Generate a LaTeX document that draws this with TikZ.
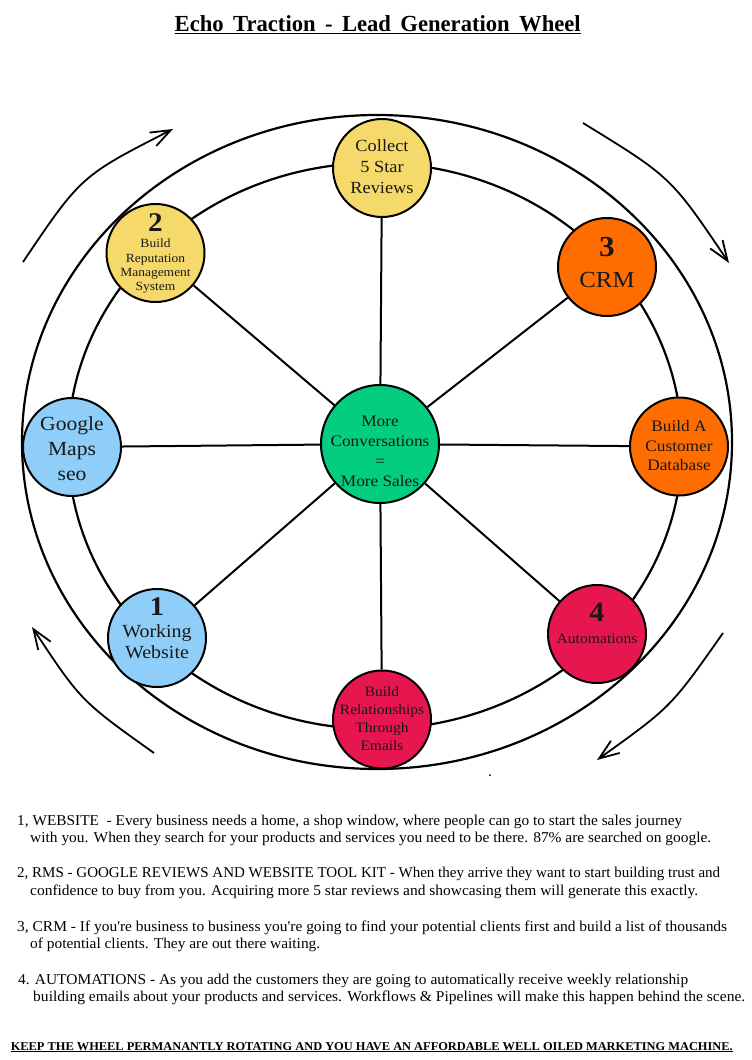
\documentclass[tikz,border=0pt]{standalone}
\usepackage{fontspec}
\setmainfont{Liberation Serif}[FakeStretch=1.08, Ligatures=TeXOff]
\usepackage{graphicx}
\usetikzlibrary{arrows.meta}
\definecolor{ylw}{HTML}{F6D96B}
\definecolor{org}{HTML}{FF6C00}
\definecolor{grn}{HTML}{03CD7F}
\definecolor{blu}{HTML}{8ECEF8}
\definecolor{crim}{HTML}{E8164E}
\newcommand{\fitline}[2]{\resizebox{#1pt}{\height}{#2}}
\tikzset{
  wheel/.style={line width=2.2pt},
  spoke/.style={line width=2pt},
  disc/.style={circle, draw, line width=2pt, minimum size=98pt, inner sep=0pt},
  hubdisc/.style={disc, minimum size=118pt},
  ntext/.style={align=center, inner sep=0pt, text=black!90},
  turn/.style={line width=1.8pt, -{Straight Barb[length=20pt,width=15pt]}},
  body/.style={anchor=base west, inner sep=0pt, font=\fontsize{15}{17}\selectfont},
}
\begin{document}
\begin{tikzpicture}[x=1pt,y=-1pt]
\fill[white] (0,0) rectangle (752,1060);
\useasboundingbox (0,0) rectangle (752,1060);

% title
\node[anchor=base, inner sep=0pt, font=\fontsize{23}{23}\selectfont\bfseries] (title) at (377.75,31)
  {\fitline{406}{\underline{Echo\hspace{0.45em}Traction\hspace{0.45em}-\hspace{0.45em}Lead\hspace{0.45em}Generation\hspace{0.45em}Wheel}}};

% rings
\coordinate (wc) at (377,442);
\coordinate (ic) at (375,446);
\draw[wheel] (wc) ellipse [x radius=355pt, y radius=327pt];
\draw[wheel] (ic) ellipse [x radius=307pt, y radius=283pt];

% rotation arrows
\coordinate (a1s) at (23,262);  \coordinate (a1c) at (81,176);  \coordinate (a1e) at (173,129);
\coordinate (a2s) at (583,123); \coordinate (a2c) at (671,177); \coordinate (a2e) at (729,263);
\coordinate (a3s) at (723,633); \coordinate (a3c) at (671,707); \coordinate (a3e) at (597,760);
\coordinate (a4s) at (154,753); \coordinate (a4c) at (81,701);  \coordinate (a4e) at (32,627);
\draw[turn] (a1s) .. controls (a1c) .. (a1e);
\draw[turn] (a2s) .. controls (a2c) .. (a2e);
\draw[turn] (a3s) .. controls (a3c) .. (a3e);
\draw[turn] (a4s) .. controls (a4c) .. (a4e);

% discs
\node[disc, fill=ylw] (collect) at (382,168) {};
\node[disc, fill=ylw] (rms) at (155.5,253) {};
\node[disc, fill=org] (crm) at (607,267) {};
\node[disc, fill=blu] (gmaps) at (72,447) {};
\node[hubdisc, fill=grn] (hub) at (380,444) {};
\node[disc, fill=org] (cdb) at (679,446.5) {};
\node[disc, fill=blu] (web) at (157,638) {};
\node[disc, fill=crim] (auto) at (597,634) {};
\node[disc, fill=crim] (rel) at (382,719.5) {};

% spokes
\foreach \n in {collect,rms,crm,gmaps,cdb,web,auto,rel}
  \draw[spoke] (hub) -- (\n);

% disc texts
\node[ntext, font=\fontsize{17}{21}\selectfont] (collect-t) at (382,167) {Collect\\5 Star\\Reviews};
\node[ntext, font=\fontsize{12.5}{14.4}\selectfont] (rms-t) at (155.5,253.7)
  {{\fontsize{27}{27}\selectfont\bfseries 2}\\[1.5pt]Build\\Reputation\\Management\\System};
\node[ntext, font=\fontsize{23}{27}\selectfont] (crm-t) at (607,262.5)
  {{\fontsize{29}{29}\selectfont\bfseries 3}\\[4pt]CRM};
\node[ntext, font=\fontsize{20}{25}\selectfont] (gmaps-t) at (72,449) {Google\\Maps\\seo};
\node[ntext, font=\fontsize{16}{20}\selectfont] (hub-t) at (380,451.7) {More\\Conversations\\=\\More Sales};
\node[ntext, font=\fontsize{16}{19.5}\selectfont] (cdb-t) at (679,446) {Build A\\Customer\\Database};
\node[ntext, font=\fontsize{18.5}{21}\selectfont] (web-t) at (157,628.4)
  {{\fontsize{27}{27}\selectfont\bfseries 1}\\[0.5pt]Working\\Website};
\node[ntext, font=\fontsize{14.5}{17}\selectfont] (auto-t) at (597,623.5)
  {{\fontsize{28}{28}\selectfont\bfseries 4}\\[5pt]Automations};
\node[ntext, font=\fontsize{14.3}{18}\selectfont] (rel-t) at (382,719) {Build\\Relationships\\Through\\Emails};

% stray dot
\fill (490,775) circle (1pt);

% body text
\node[body] (p1a) at (17,825) {\fitline{665}{1, WEBSITE\ \ - Every business needs a home, a shop window, where people can go to start the sales journey}};
\node[body] (p1b) at (30,842) {\fitline{681}{with you. When they search for your products and services you need to be there. 87\% are searched on google.}};
\node[body] (p2a) at (17,877) {\fitline{703}{2, RMS - GOOGLE REVIEWS AND WEBSITE TOOL KIT - When they arrive they want to start building trust and}};
\node[body] (p2b) at (30,895) {\fitline{668}{confidence to buy from you. Acquiring more 5 star reviews and showcasing them will generate this exactly.}};
\node[body] (p3a) at (17,931) {\fitline{710}{3, CRM - If you're business to business you're going to find your potential clients first and build a list of thousands}};
\node[body] (p3b) at (30,948) {\fitline{290}{of potential clients. They are out there waiting.}};
\node[body] (p4a) at (18,984) {\fitline{670}{4. AUTOMATIONS - As you add the customers they are going to automatically receive weekly relationship}};
\node[body] (p4b) at (33,1001) {\fitline{712}{building emails about your products and services. Workflows \& Pipelines will make this happen behind the scene.}};

\node[anchor=base west, inner sep=0pt, font=\fontsize{12}{12}\selectfont\bfseries] (foot) at (10.6,1050)
  {\fitline{722}{\underline{KEEP THE WHEEL PERMANANTLY ROTATING AND YOU HAVE AN AFFORDABLE WELL OILED MARKETING MACHINE.}}};
\end{tikzpicture}
\end{document}
